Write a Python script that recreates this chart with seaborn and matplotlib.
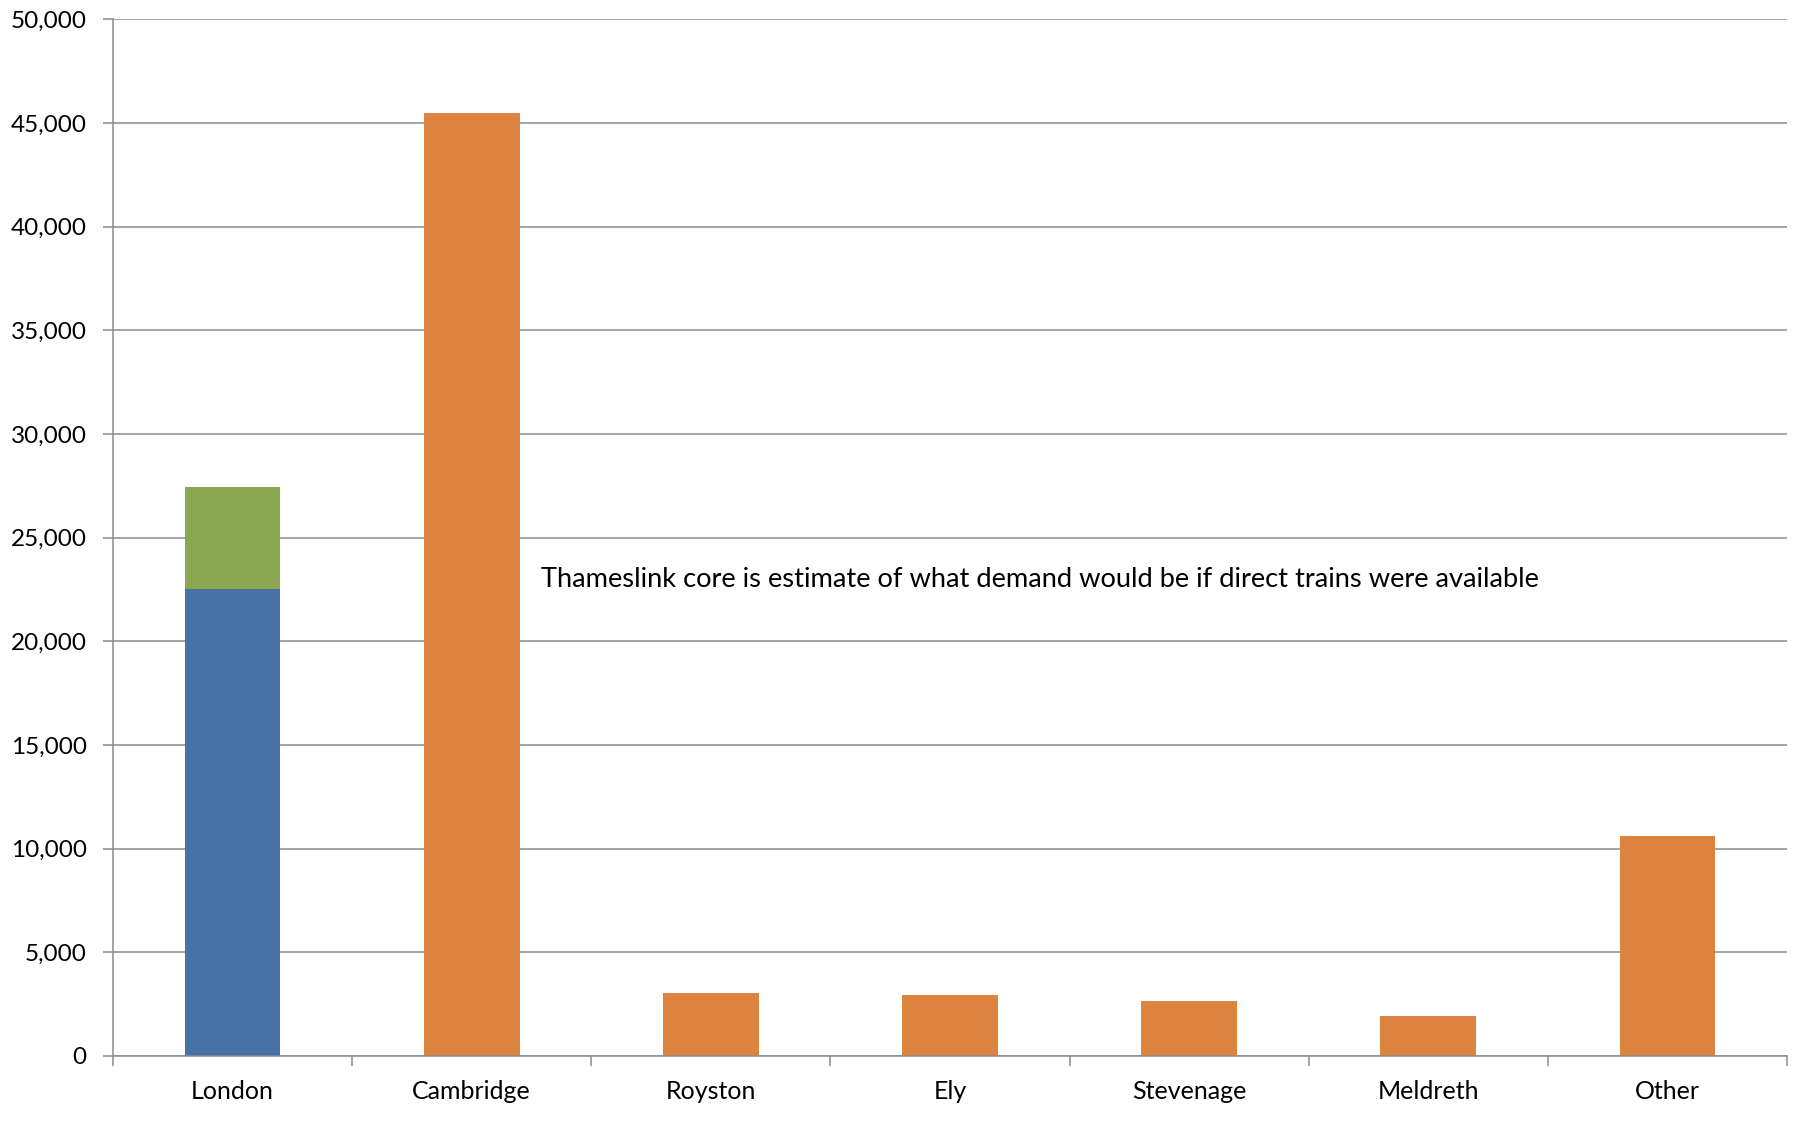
import matplotlib
matplotlib.use("Agg")
import matplotlib.pyplot as plt
import seaborn as sns
import pandas as pd
import numpy as np
from matplotlib.ticker import FuncFormatter, FixedLocator

categories = ["London", "Cambridge", "Royston", "Ely", "Stevenage", "Meldreth", "Other"]
london_existing = 22500
london_thameslink_core = 4950
other_values = [45500, 3050, 2950, 2650, 1950, 10600]
y_ticks = [0, 5000, 10000, 15000, 20000, 25000, 30000, 35000, 40000, 45000, 50000]
note = "Thameslink core is estimate of what demand would be if direct trains were available"

blue = "#4672A8"
green = "#8AA64E"
orange = "#DC843F"
grid_c = "#8c8c8c"

sns.set_theme(style="white")
plt.rcParams['font.family'] = ['Lato', 'DejaVu Sans']

totals = [london_existing + london_thameslink_core] + other_values
df_tot = pd.DataFrame({"cat": categories, "val": totals})
palette = {c: (green if c == "London" else orange) for c in categories}
df_base = pd.DataFrame({"cat": ["London"], "val": [london_existing]})

fig = plt.figure(figsize=(17.94, 11.21), dpi=100)
ax = fig.add_axes([0.063, 0.058, 0.9961 - 0.063, 0.9828 - 0.058])

sns.barplot(data=df_tot, x="cat", y="val", hue="cat", palette=palette, order=categories,
            hue_order=categories, dodge=False, width=0.4, legend=False, ax=ax,
            linewidth=0, saturation=1, zorder=3)
sns.barplot(data=df_base, x="cat", y="val", order=categories, color=blue, width=0.4,
            ax=ax, linewidth=0, saturation=1, zorder=4)

ax.set_xlim(-0.5, len(categories) - 0.5)
ax.set_ylim(0, 50000)
ax.yaxis.set_major_locator(FixedLocator(y_ticks))
ax.yaxis.set_major_formatter(FuncFormatter(lambda v, p: f"{int(v):,}"))
ax.yaxis.grid(True, color=grid_c, linewidth=1.1, zorder=0)
ax.set_axisbelow(True)
ax.set_xlabel("")
ax.set_ylabel("")

for s in ["top", "right"]:
    ax.spines[s].set_visible(False)
for s in ["left", "bottom"]:
    ax.spines[s].set_color(grid_c)
    ax.spines[s].set_linewidth(1.1)
    ax.spines[s].set_zorder(5)

ax.tick_params(axis="y", direction="out", length=7, width=1.1, color=grid_c, left=True,
               labelsize=17.5, pad=12, labelcolor="#000000")
ax.tick_params(axis="x", which="major", length=0, labelsize=18, pad=17, labelcolor="#000000")
ax.set_xticks(np.arange(-0.5, len(categories), 1.0), minor=True)
ax.tick_params(axis="x", which="minor", direction="out", length=7, width=1.1, color=grid_c,
               bottom=True)

ax.text(1.29, 23000, note, fontsize=19.6, ha="left", va="center", color="#000000")

fig.savefig("out.png", dpi=100)
